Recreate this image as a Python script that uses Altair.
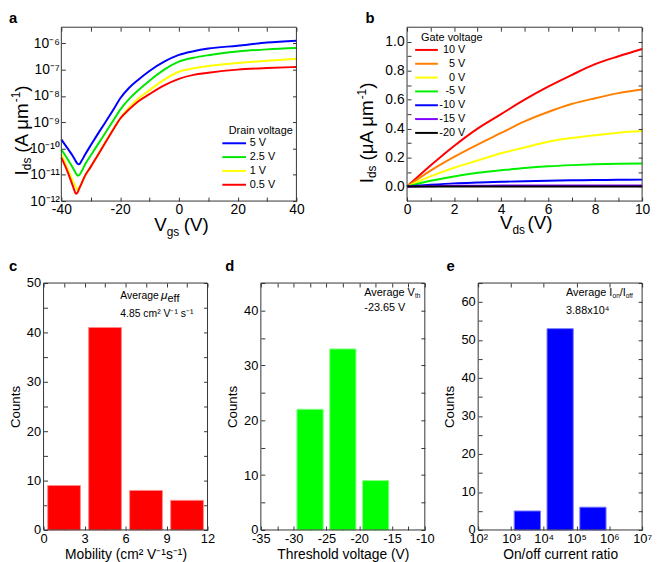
import json
import altair as alt
import pandas as pd

FONT = "Liberation Sans"
FRAME = "#333333"
TICK = 4
SHIFT = 18   # panel a plot area starts this far right of panel c

# ---------------- panel a : transfer curves ----------------
vgs = [-40, -38, -36, -35, -34.5, -34, -33, -32, -30, -28, -25, -22, -20, -17, -14, -10, -5, 0, 5, 10, 20, 30, 40]
ids_5v = [2.19e-10, 1.05e-10, 5.0e-11, 3.16e-11, 2.63e-11, 2.51e-11, 3.55e-11, 5.62e-11, 1.32e-10, 3.02e-10, 1.0e-9,
          3.39e-9, 7.94e-9, 2.0e-8, 3.98e-8, 8.91e-8, 2.0e-7, 3.63e-7, 5.01e-7, 6.31e-7, 8.13e-7, 1.07e-6, 1.26e-6]
ids_2v5 = [9.12e-11, 4.17e-11, 1.78e-11, 1.12e-11, 9.33e-12, 9.55e-12, 1.41e-11, 2.4e-11, 5.37e-11, 1.2e-10, 3.98e-10,
           1.32e-9, 2.95e-9, 7.59e-9, 1.58e-8, 3.8e-8, 1.0e-7, 2.0e-7, 2.82e-7, 3.55e-7, 4.9e-7, 5.89e-7, 6.61e-7]
ids_1v = [6.03e-11, 1.91e-11, 5.62e-12, 3.31e-12, 2.51e-12, 3.02e-12, 5.01e-12, 8.91e-12, 2.0e-11, 4.79e-11, 1.78e-10,
          6.31e-10, 1.41e-9, 3.55e-9, 7.59e-9, 1.66e-8, 4.17e-8, 8.32e-8, 1.12e-7, 1.38e-7, 1.78e-7, 2.19e-7, 2.57e-7]
ids_0v5 = [4.47e-11, 1.41e-11, 3.55e-12, 1.91e-12, 2.09e-12, 2.82e-12, 5.01e-12, 8.91e-12, 2.0e-11, 4.68e-11, 1.7e-10,
           6.03e-10, 1.35e-9, 3.02e-9, 6.03e-9, 1.17e-8, 2.51e-8, 4.47e-8, 6.31e-8, 7.59e-8, 1.0e-7, 1.15e-7, 1.26e-7]
drain_labels = ["5 V", "2.5 V", "1 V", "0.5 V"]
drain_colors = ["#0000ff", "#00e600", "#ffff00", "#ff0000"]
a_xticks = [-40, -30, -20, -10, 0, 10, 20, 30, 40]
a_yticks = [1e-12, 1e-11, 1e-10, 1e-9, 1e-8, 1e-7, 1e-6]
a_ylabels = ["10⁻¹²", "10⁻¹¹", "10⁻¹⁰", "10⁻⁹", "10⁻⁸", "10⁻⁷", "10⁻⁶"]

# ---------------- panel b : output curves ----------------
vds = [0, 1, 2, 3, 4, 5, 6, 7, 8, 9, 10]
i_p10 = [0, 0.145, 0.28, 0.40, 0.50, 0.60, 0.69, 0.77, 0.845, 0.90, 0.95]
i_p5 = [0, 0.11, 0.205, 0.29, 0.37, 0.45, 0.515, 0.57, 0.61, 0.645, 0.67]
i_0 = [0, 0.07, 0.13, 0.18, 0.23, 0.27, 0.31, 0.335, 0.355, 0.372, 0.383]
i_m5 = [0, 0.04, 0.07, 0.095, 0.112, 0.128, 0.14, 0.148, 0.154, 0.158, 0.16]
i_m10 = [0, 0.012, 0.022, 0.028, 0.033, 0.037, 0.040, 0.043, 0.045, 0.047, 0.048]
i_m15 = [0, 0.003, 0.005, 0.006, 0.007, 0.007, 0.008, 0.008, 0.008, 0.008, 0.008]
i_m20 = [0, 0.001, 0.001, 0.001, 0.001, 0.001, 0.001, 0.001, 0.001, 0.001, 0.001]
gate_labels = ["10 V", "5 V", "0 V", "-5 V", "-10 V", "-15 V", "-20 V"]
gate_colors = ["#ff0000", "#ff8000", "#ffff00", "#00f000", "#0000ff", "#8000ff", "#000000"]
b_xticks = [0, 1, 2, 3, 4, 5, 6, 7, 8, 9, 10]
b_yticks = [0, 0.1, 0.2, 0.3, 0.4, 0.5, 0.6, 0.7, 0.8, 0.9, 1.0]

# ---------------- panel c/d/e : histograms ----------------
mob_lo = [0, 3, 6, 9]
mob_hi = [3, 6, 9, 12]
mob_counts = [9, 41, 8, 6]
vth_lo = [-30, -25, -20]
vth_hi = [-25, -20, -15]
vth_counts = [22, 33, 9]
ratio_lo = [1e3, 1e4, 1e5]
ratio_hi = [1e4, 1e5, 1e6]
ratio_counts = [5, 53, 6]
c_xticks = [0, 1.5, 3, 4.5, 6, 7.5, 9, 10.5, 12]
c_yticks = [0, 5, 10, 15, 20, 25, 30, 35, 40, 45, 50]
d_xticks = [-35, -32.5, -30, -27.5, -25, -22.5, -20, -17.5, -15, -12.5, -10]
d_yticks = [0, 5, 10, 15, 20, 25, 30, 35, 40, 45]
e_xticks = [1e2, 1e3, 1e4, 1e5, 1e6, 1e7]
e_xlabels = ["10²", "10³", "10⁴", "10⁵", "10⁶", "10⁷"]
e_yticks = [0, 5, 10, 15, 20, 25, 30, 35, 40, 45, 50, 55, 60, 65]

W_TOP, H_TOP = 238, 176
W_BOT, H_BOT = 166, 250
ONE = pd.DataFrame({"k": [0]})


def axis(orient, values, expr=None, labels=True, title=None, size=14, pad=2, tsize=14, tpad=2, offset=-TICK):
    kw = dict(orient=orient, values=values, domain=False, grid=False, ticks=True,
              tickSize=TICK, tickColor=FRAME, tickWidth=1, tickOpacity=1, offset=offset, labels=labels,
              labelFlush=False, labelOverlap=False, labelFontSize=size, labelPadding=pad,
              labelColor="black", labelFont=FONT, title=title, minExtent=0)
    if expr is not None:
        kw["labelExpr"] = expr
    if title is not None:
        kw.update(titleFontSize=tsize, titlePadding=tpad, titleFontWeight="normal",
                  titleColor="black", titleFont=FONT)
    return alt.Axis(**kw)


def txt(s, x, y, size, angle=0, bold=False, italic=False, align="left"):
    kw = dict(text=s, fontSize=size, align=align, baseline="alphabetic", font=FONT, color="black")
    if angle:
        kw["angle"] = angle
    if bold:
        kw["fontWeight"] = "bold"
    if italic:
        kw["fontStyle"] = "italic"
    return alt.Chart(ONE).mark_text(**kw).encode(x=alt.value(x), y=alt.value(y))


def frame(x0, x1, h):
    return alt.Chart(ONE).mark_rect(filled=False, stroke=FRAME, strokeWidth=1).encode(
        x=alt.value(x0), x2=alt.value(x1), y=alt.value(0), y2=alt.value(h))


def every(n, fmt="''+datum.value"):
    return f"abs(datum.value % {n}) < 1e-6 ? {fmt} : ''"


def stroke_legend(title, x, y, half_len, label_offset, align="left"):
    # custom horizontal-line symbol: path in unit box, scaled by sqrt(size)/2 = 3
    return alt.Legend(title=title, orient="none", legendX=x, legendY=y,
                      symbolType=f"M-{half_len / 3:.3f},0H{half_len / 3:.3f}", symbolSize=36,
                      symbolStrokeWidth=2, labelFontSize=11, titleFontSize=11, titleFontWeight="normal",
                      labelFont=FONT, titleFont=FONT, rowPadding=2, titlePadding=2,
                      labelOffset=label_offset, labelAlign=align, padding=0, labelColor="black",
                      titleColor="black")


def ytitle(x, y0, unit):
    """Rotated 'I_ds (unit^-1)' axis title built from pieces, reading upward from y0."""
    big, small = 19, 12
    w_unit = {"(A μm": 51.0, "(μA μm": 62.0}[unit]
    y1 = y0 - 5.3
    y2 = y1 - 12.7 - 5.0
    y3 = y2 - w_unit
    y4 = y3 - 10.7
    return [txt("I", x, y0, big, angle=270), txt("ds", x + 3, y1, small, angle=270),
            txt(unit, x, y2, big, angle=270), txt("-1", x - 8, y3, small, angle=270),
            txt(")", x, y4, big, angle=270)]


# ---------------- build panel a ----------------
dfa = pd.DataFrame({
    "vgs": vgs * 4,
    "ids": ids_5v + ids_2v5 + ids_1v + ids_0v5,
    "vd": sum([[lab] * len(vgs) for lab in drain_labels], []),
})
WA = W_TOP + SHIFT
xa = alt.Scale(domain=[-40, 40], nice=False, range=[SHIFT, WA])
ya = alt.Scale(type="log", domain=[1e-12, 4.1e-6], nice=False)
a_lab_expr = f"{json.dumps(a_ylabels, ensure_ascii=False)}[round(log(datum.value)/LN10)+12]"

a_lines = alt.Chart(dfa).mark_line(strokeWidth=2, interpolate="monotone").encode(
    x=alt.X("vgs:Q", scale=xa, axis=axis("bottom", a_xticks, every(20), pad=2)),
    y=alt.Y("ids:Q", scale=ya, axis=axis("left", a_yticks, a_lab_expr, pad=2, offset=-(TICK + SHIFT))),
    color=alt.Color("vd:N", scale=alt.Scale(domain=drain_labels, range=drain_colors),
                    legend=stroke_legend("Drain voltage", SHIFT + 169.5, 99, 12, 10.3)),
)
a_mirror = alt.Chart(dfa).mark_point(opacity=0).encode(
    x=alt.X("vgs:Q", scale=xa, axis=axis("top", a_xticks, labels=False)),
    y=alt.Y("ids:Q", scale=ya, axis=axis("right", a_yticks, labels=False)),
)
S = SHIFT
pa = alt.layer(
    a_lines, a_mirror, frame(S, WA, H_TOP),
    txt("a", S - 53, -4, 15, bold=True),
    txt("V", S + 94, 206, 19), txt("gs", S + 106.7, 211, 12), txt("(V)", S + 124, 206, 19),
    *ytitle(S - 34, 150, "(A μm"),
).resolve_axis(x="independent", y="independent").properties(width=WA, height=H_TOP)

# ---------------- build panel b ----------------
series_b = [i_p10, i_p5, i_0, i_m5, i_m10, i_m15, i_m20]
dfb = pd.DataFrame({
    "vds": vds * len(series_b),
    "ids": sum(series_b, []),
    "vg": sum([[lab] * len(vds) for lab in gate_labels], []),
})
xb = alt.Scale(domain=[0, 10], nice=False)
yb = alt.Scale(domain=[-0.1, 1.1], nice=False, zero=False)
b_lines = alt.Chart(dfb).mark_line(strokeWidth=2, interpolate="monotone").encode(
    x=alt.X("vds:Q", scale=xb, axis=axis("bottom", b_xticks, every(2), pad=2)),
    y=alt.Y("ids:Q", scale=yb, axis=axis("left", b_yticks,
                                          "round(datum.value*10) % 2 == 0 ? format(datum.value, '.1f') : ''",
                                          pad=3)),
    color=alt.Color("vg:N", scale=alt.Scale(domain=gate_labels, range=gate_colors),
                    legend=stroke_legend("Gate voltage", 14.2, 4.5, 11.5, 33.8, align="right")),
)
b_mirror = alt.Chart(dfb).mark_point(opacity=0).encode(
    x=alt.X("vds:Q", scale=xb, axis=axis("top", b_xticks, labels=False)),
    y=alt.Y("ids:Q", scale=yb, axis=axis("right", b_yticks, labels=False)),
)
pb = alt.layer(
    b_lines, b_mirror, frame(0, W_TOP, H_TOP),
    txt("b", -42, -4, 15, bold=True),
    txt("V", 94, 204, 19), txt("ds", 106.7, 209, 12), txt("(V)", 122, 204, 19),
    *ytitle(-34, 158, "(μA μm"),
).resolve_axis(x="independent", y="independent").properties(width=W_TOP, height=H_TOP)


# ---------------- histogram panels ----------------
def hist(lo, hi, counts, xscale, xticks, xexpr, yscale, yticks, color, stroke, xtitle, extra, log=False):
    df = pd.DataFrame({"lo": lo, "hi": hi, "count": counts})
    if log:
        c0 = "pow(10, (0.9*log(datum.lo) + 0.1*log(datum.hi))/LN10)"
        c1 = "pow(10, (0.1*log(datum.lo) + 0.9*log(datum.hi))/LN10)"
    else:
        c0 = "datum.lo + 0.1*(datum.hi - datum.lo)"
        c1 = "datum.hi - 0.1*(datum.hi - datum.lo)"
    base = alt.Chart(df).transform_calculate(b0=c0, b1=c1)
    bars = base.mark_bar(color=color, stroke=stroke, strokeWidth=1).encode(
        x=alt.X("b0:Q", scale=xscale, axis=axis("bottom", xticks, xexpr, title=xtitle, size=13, pad=3,
                                                  tsize=14, tpad=2)),
        x2="b1:Q",
        y=alt.Y("count:Q", scale=yscale, axis=axis("left", yticks, every(10), title="Counts", size=13,
                                                     pad=3, tsize=13.5, tpad=4)),
        y2=alt.datum(0),
    )
    mirror = base.mark_bar(opacity=0).encode(
        x=alt.X("b0:Q", scale=xscale, axis=axis("top", xticks, labels=False)),
        x2="b1:Q",
        y=alt.Y("count:Q", scale=yscale, axis=axis("right", yticks, labels=False)),
        y2=alt.datum(0),
    )
    return alt.layer(bars, mirror, frame(0, W_BOT, H_BOT), *extra).resolve_axis(
        x="independent", y="independent").properties(width=W_BOT, height=H_BOT)


pc = hist(mob_lo, mob_hi, mob_counts, alt.Scale(domain=[0, 12], nice=False), c_xticks, every(3),
          alt.Scale(domain=[0, 50], nice=False), c_yticks, "#ff0000", "#ff8a8a",
          "Mobility (cm² V⁻¹s⁻¹)",
          [txt("c", -35, -12, 15, bold=True),
           txt("Average", 77.7, 16, 10.5), txt("μ", 119, 16, 12, italic=True), txt("eff", 125.5, 19, 11),
           txt("4.85 cm² V⁻¹ s⁻¹", 77.7, 34.3, 10.5)])

pd_ = hist(vth_lo, vth_hi, vth_counts, alt.Scale(domain=[-35, -10], nice=False), d_xticks, every(5),
           alt.Scale(domain=[0, 45], nice=False), d_yticks, "#00ff00", "#8aff8a",
           "Threshold voltage (V)",
           [txt("d", -36, -12, 15, bold=True),
            txt("Average V", 104.7, 12.7, 11), txt("th", 156.1, 15, 6.5),
            txt("-23.65 V", 104.7, 28.3, 11)])

e_expr = f"{json.dumps(e_xlabels, ensure_ascii=False)}[round(log(datum.value)/LN10)-2]"
pe = hist(ratio_lo, ratio_hi, ratio_counts, alt.Scale(type="log", domain=[1e2, 1e7], nice=False), e_xticks,
          e_expr, alt.Scale(domain=[0, 65], nice=False), e_yticks, "#0000ff", "#7a7aff",
          "On/off current ratio",
          [txt("e", -32, -12, 15, bold=True),
           txt("Average I", 89, 12.7, 11), txt("on", 136.1, 15, 6.5), txt("/I", 143.3, 12.7, 11),
           txt("off", 149.4, 15, 6.5),
           txt("3.88x10⁴", 89, 31, 11)],
          log=True)

top = alt.hconcat(pa, pb, spacing=112, bounds="flush").resolve_scale(color="independent")
bottom = alt.hconcat(pc, pd_, pe, spacing=54, bounds="flush")
chart = alt.vconcat(top, bottom, spacing=22).resolve_scale(color="independent").properties(
    padding=0
).configure(font=FONT).configure_view(stroke=None)

chart.save("out.html", embed_options={"renderer": "svg", "actions": False})
